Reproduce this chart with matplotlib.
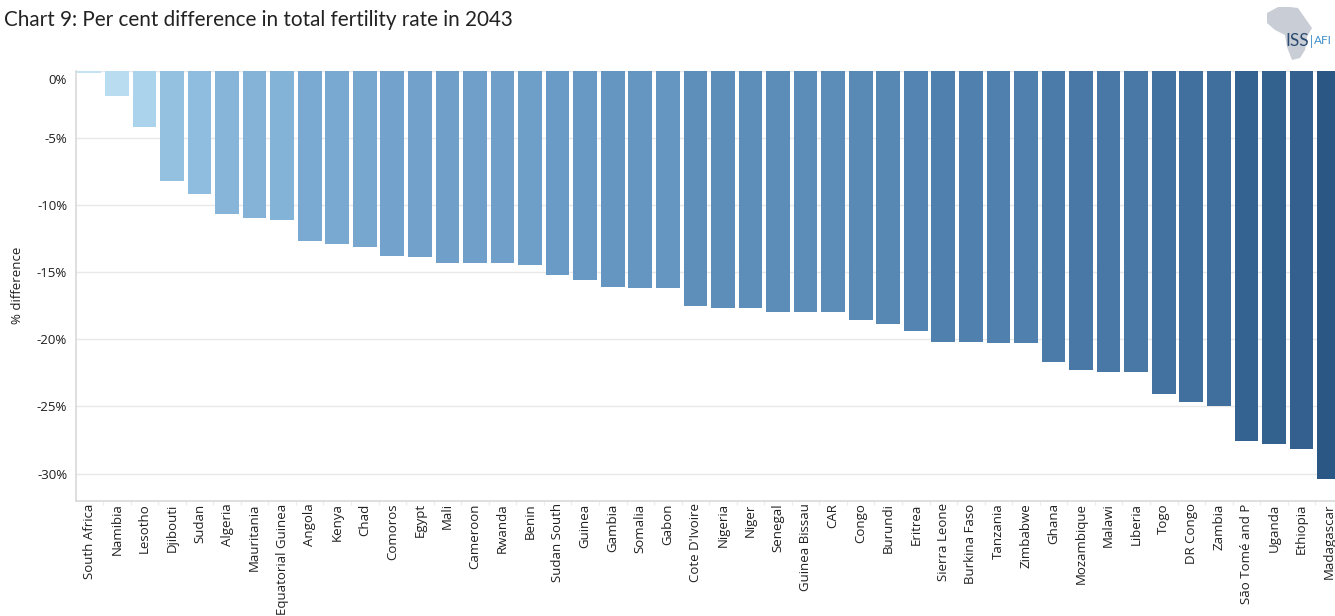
import numpy as np
import matplotlib
matplotlib.use("Agg")
import matplotlib.pyplot as plt
from matplotlib.colors import LinearSegmentedColormap
from matplotlib.patches import Polygon
from matplotlib.transforms import ScaledTranslation

countries = ["South Africa", "Namibia", "Lesotho", "Djibouti", "Sudan", "Algeria",
             "Mauritania", "Equatorial Guinea", "Angola", "Kenya", "Chad", "Comoros",
             "Egypt", "Mali", "Cameroon", "Rwanda", "Benin", "Sudan South", "Guinea",
             "Gambia", "Somalia", "Gabon", "Cote D'Ivoire", "Nigeria", "Niger",
             "Senegal", "Guinea Bissau", "CAR", "Congo", "Burundi", "Eritrea",
             "Sierra Leone", "Burkina Faso", "Tanzania", "Zimbabwe", "Ghana",
             "Mozambique", "Malawi", "Liberia", "Togo", "DR Congo", "Zambia",
             "São Tomé and P", "Uganda", "Ethiopia", "Madagascar"]
diff_pct = [-0.2, -1.9, -4.2, -8.2, -9.2, -10.7, -11.0, -11.1, -12.7, -12.9, -13.1,
            -13.8, -13.9, -14.3, -14.3, -14.3, -14.5, -15.2, -15.6, -16.1, -16.2,
            -16.2, -17.5, -17.7, -17.7, -18.0, -18.0, -18.0, -18.6, -18.9, -19.4,
            -20.2, -20.2, -20.3, -20.3, -21.7, -22.3, -22.4, -22.4, -24.1, -24.7,
            -25.0, -27.6, -27.8, -28.2, -30.4]
y_ticks = [0, -5, -10, -15, -20, -25, -30]

W, H = 1335, 616
TEXT = "#1f1f1f"
SLOT = 27.55

plt.rcParams["font.family"] = ["Open Sans", "DejaVu Sans"]
fig = plt.figure(figsize=(W / 100, H / 100), dpi=100)
ax = fig.add_axes([75.5 / W, 1 - 500.5 / H, (W - 75.5) / W, 430 / H])

# tableau style blue ramp, darker with bigger difference
cmap = LinearSegmentedColormap.from_list(
    "blues", ["#2a5783", "#3f6d9c", "#5080ad", "#6a9bc6", "#8ab8dc", "#a6d0ea", "#c4e3f4"])
vals = np.array(diff_pct)
colors = cmap((vals - vals.min()) / (0 - vals.min()))

xs = np.arange(len(countries))
ax.bar(xs, vals, width=0.86, color=colors, linewidth=0, zorder=3)

ax.set_xlim(-0.5, (W - 75.5) / SLOT - 0.5)
ax.set_ylim(-32, 0)
ax.set_yticks(y_ticks)
ax.set_yticklabels(["%d%%" % t for t in y_ticks], fontsize=9.5, color=TEXT)
ax.set_xticks(xs)
ax.set_xticklabels(countries, rotation=90, fontsize=9.5, color=TEXT, ha="center", va="top")
ax.set_xticks(xs[:-1] + 0.5, minor=True)
ax.tick_params(axis="x", which="major", length=0, pad=2)
ax.tick_params(axis="x", which="minor", length=3, color="#eeeeee", width=1)
ax.tick_params(axis="y", length=0, pad=6)
ax.grid(axis="y", color="#e8e8e8", linewidth=1, zorder=0)
ax.set_axisbelow(True)
for s in ["top", "right"]:
    ax.spines[s].set_visible(False)
for s in ["left", "bottom"]:
    ax.spines[s].set_color("#d9d9d9")
    ax.spines[s].set_linewidth(1.2)

# the 0% label sits a bit under its line in the original
lab0 = ax.get_yticklabels()[0]
lab0.set_transform(lab0.get_transform() + ScaledTranslation(0, -9 / 100, fig.dpi_scale_trans))

fig.text(18 / W, 1 - 285 / H, "% difference", rotation=90, fontsize=9.5, color=TEXT,
         ha="center", va="center")
fig.text(4 / W, 1 - 20 / H, "Chart 9: Per cent difference in total fertility rate in 2043",
         fontsize=14.9, family=["Lato", "DejaVu Sans"], color="#222222", ha="left", va="center")

# logo, outline in pixels
africa = [(1267, 13), (1278, 7), (1290, 7), (1298, 8), (1305, 18), (1312, 28), (1307, 37),
          (1305, 50), (1300, 58), (1292, 60), (1287, 47), (1285, 35), (1275, 30), (1267, 23)]
fig.add_artist(Polygon([(x / W, 1 - y / H) for x, y in africa], closed=True,
                       transform=fig.transFigure, facecolor="#c9ced6", edgecolor="none"))
fig.text(1297.5 / W, 1 - 41 / H, "ISS", fontsize=12.5, color="#2b4a6f", ha="center", va="center",
         family=["Lato", "DejaVu Sans"])
fig.text(1323 / W, 1 - 41 / H, "AFI", fontsize=8.5, color="#3f8fc9", ha="center", va="center",
         family=["Lato", "DejaVu Sans"])
fig.text(1311.5 / W, 1 - 41 / H, "|", fontsize=9, color="#3f8fc9", ha="center", va="center")

fig.savefig("out.png", dpi=100)
